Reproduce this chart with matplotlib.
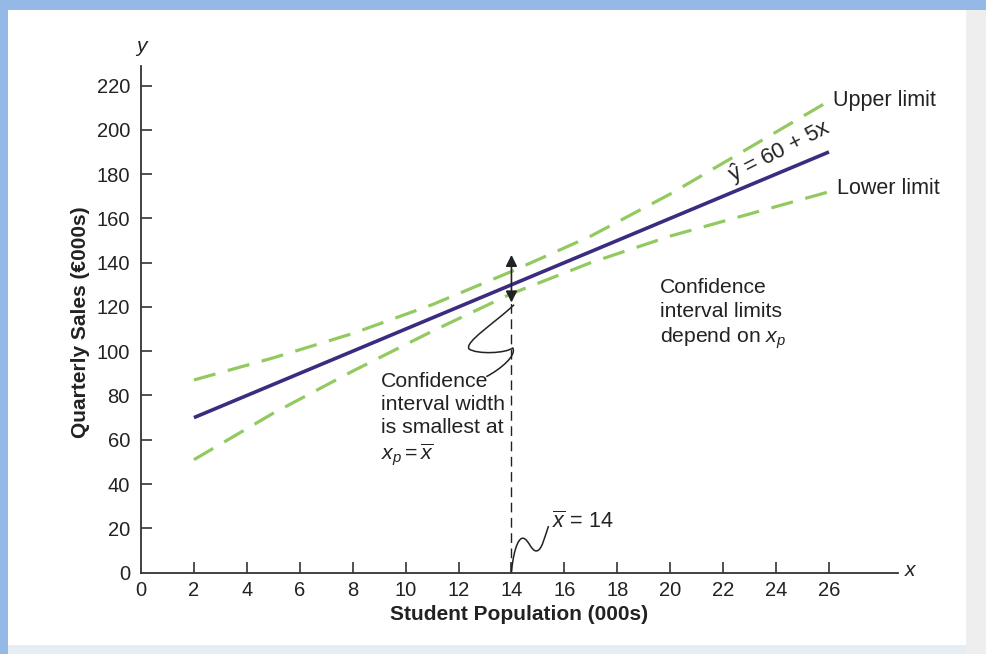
import numpy as np
import matplotlib.pyplot as plt
from matplotlib.patches import Rectangle, PathPatch
from matplotlib.path import Path

plt.rcParams["font.family"] = ["Liberation Sans", "DejaVu Sans"]
plt.rcParams["mathtext.fontset"] = "custom"
plt.rcParams["mathtext.rm"] = "Liberation Sans"
plt.rcParams["mathtext.it"] = "Liberation Sans:italic"

# regression line y = 60 + 5x over the observed range
x_fit = np.array([2, 26])
intercept, slope = 60, 5
y_fit = intercept + slope * x_fit

# confidence interval limits
x_ci = [2, 5, 8, 11, 14, 17, 20, 23, 26]
upper = [87, 97, 108, 121, 136, 152, 171, 192, 213]
lower = [51, 72, 91, 109, 126, 140, 152, 162, 172]

x_mean = 14
x_ticks = list(range(2, 27, 2))
y_ticks = list(range(20, 221, 20))

TXT = "#222222"
GREEN = "#92ca60"
NAVY = "#3a2d80"

fig = plt.figure(figsize=(9.86, 6.54), dpi=100, facecolor="#94b9e6")
W, H = 986, 654

def px(x0, y0, x1, y1):
    return (x0 / W, 1 - y1 / H, (x1 - x0) / W, (y1 - y0) / H)

# page background
for box, col in [(px(8, 10, 966, 645), "white"),
                 (px(966, 10, 986, 654), "#eeeeee"),
                 (px(8, 645, 966, 654), "#e6edf5")]:
    fig.patches.append(Rectangle(box[:2], box[2], box[3], transform=fig.transFigure,
                                 facecolor=col, edgecolor="none", zorder=-5))

ax = fig.add_axes([141 / W, 1 - 572.6 / H, 756.8 / W, 507 / H])
ax.set_zorder(2)
ax.set_facecolor("none")
ax.set_xlim(0, 28.6)
ax.set_ylim(0, 229)

for s in ["top", "right"]:
    ax.spines[s].set_visible(False)
for s in ["left", "bottom"]:
    ax.spines[s].set_color("#333333")
    ax.spines[s].set_linewidth(1.3)

ax.set_xticks([0] + x_ticks)
ax.set_yticks([0] + y_ticks)
ax.tick_params(axis="both", direction="in", length=8, width=1.2, color="#333333",
               labelsize=14.5, labelcolor=TXT)
ax.tick_params(axis="x", pad=6)
ax.tick_params(axis="y", pad=8)
ax.xaxis.get_major_ticks()[0].tick1line.set_visible(False)
ax.yaxis.get_major_ticks()[0].tick1line.set_visible(False)

# confidence limits
lu, = ax.plot(x_ci, upper, color=GREEN, lw=2.3, solid_capstyle="butt")
ll, = ax.plot(x_ci, lower, color=GREEN, lw=2.3, solid_capstyle="butt")
for ln in (lu, ll):
    ln.set_dashes([7, 4])

# fitted line
ax.plot(x_fit, y_fit, color=NAVY, lw=2.6, solid_capstyle="butt")

# vertical reference at the mean and width arrow
y_mean = intercept + slope * x_mean
ax.plot([x_mean, x_mean], [0, y_mean - 8], color="#222222", lw=1.0, dashes=[7, 4])
ax.annotate("", xy=(x_mean, y_mean + 13.5), xytext=(x_mean, y_mean - 8),
            arrowprops=dict(arrowstyle="<|-|>", color="#222222", lw=1.2,
                            mutation_scale=17, shrinkA=0, shrinkB=0))

# curly leader lines
verts1 = [(14.1, 121), (13.4, 113), (12.2, 104), (12.4, 101),
          (12.7, 98.5), (13.8, 99), (14.05, 101.5),
          (14.2, 98), (13.6, 92), (13.05, 88.5)]
codes1 = [Path.MOVETO] + [Path.CURVE4] * 9
ax.add_patch(PathPatch(Path(verts1, codes1), facecolor="none", edgecolor="#222222", lw=1.1))

verts2 = [(14.0, 0.5), (14.1, 12), (14.3, 16), (14.45, 15.5),
          (14.65, 15), (14.75, 9.5), (14.95, 9.8),
          (15.15, 10), (15.25, 16), (15.4, 21)]
codes2 = [Path.MOVETO] + [Path.CURVE4] * 9
ax.add_patch(PathPatch(Path(verts2, codes2), facecolor="none", edgecolor="#222222", lw=1.1))

# annotations
ax.text(15.53, 22.8, r"$\overline{x}$ = 14", fontsize=15.5, color=TXT, va="center", ha="left")
ax.text(9.07, 90.5, "Confidence\ninterval width\nis smallest at\n" + r"$x_p = \overline{x}$",
        fontsize=15.3, color=TXT, va="top", ha="left", linespacing=1.25)
ax.text(19.6, 133, "Confidence\ninterval limits\ndepend on " + r"$x_p$",
        fontsize=15.2, color=TXT, va="top", ha="left", linespacing=1.3)
ax.text(26.15, 213.3, "Upper limit", fontsize=15.5, color=TXT, va="center", ha="left")
ax.text(26.3, 173.6, "Lower limit", fontsize=15.5, color=TXT, va="center", ha="left")
ax.text(24.15, 190, r"$\hat{\mathrm{y}}$ = 60 + 5x", fontsize=16, color=TXT,
        rotation=27, rotation_mode="anchor", ha="center", va="center")

# axis titles
fig.text(80 / W, 1 - 322 / H, "Quarterly Sales (€000s)", rotation=90, fontsize=15,
         fontweight="bold", color=TXT, ha="center", va="center")
fig.text(519 / W, 1 - 614 / H, "Student Population (000s)", fontsize=15,
         fontweight="bold", color=TXT, ha="center", va="center")
fig.text(141 / W, 1 - 47 / H, "y", fontsize=15, style="italic", color=TXT, ha="center", va="center")
fig.text(910 / W, 1 - 570 / H, "x", fontsize=15, style="italic", color=TXT, ha="center", va="center")

fig.savefig("out.png", dpi=100, facecolor=fig.get_facecolor())
